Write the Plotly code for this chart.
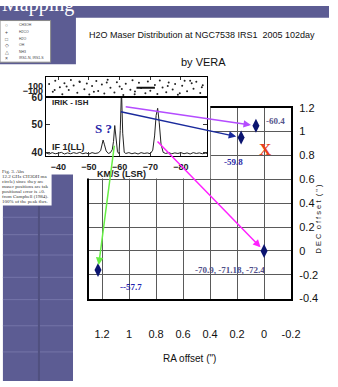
import plotly.graph_objects as go

W, H = 338, 387

# ---------------- data ----------------
ra_offset = [1.23, 0.0, 0.17, 0.06]
dec_offset = [-0.16, 0.0, 0.95, 1.05]
point_labels = ["--57.7", "-70.9, -71.18, -72.4", "-59.8", "-60.4"]

x_ticks = [1.2, 1.0, 0.8, 0.6, 0.4, 0.2, 0.0, -0.2]
x_tick_text = ["1.2", "1", "0.8", "0.6", "0.4", "0.2", "0", "-0.2"]
y_ticks = [-0.4, -0.2, 0.0, 0.2, 0.4, 0.6, 0.8, 1.0, 1.2]
y_tick_text = ["-0.4", "-0.2", "0", "0.2", "0.4", "0.6", "0.8", "1", "1.2"]

# inset spectrum (velocity km/s LSR, antenna temperature)
spec_vel = [-36.0, -37.0, -38.0, -39.0, -40.0, -41.0, -42.0, -43.0, -44.0, -45.0,
            -46.0, -47.0, -48.0, -49.0, -50.0, -51.0, -52.0, -53.0, -53.8, -54.3,
            -54.6, -55.0, -55.6, -56.3, -57.0, -57.6, -58.0, -58.4, -58.8, -59.3,
            -59.8, -60.2, -60.6, -61.0, -61.5, -62.0, -63.0, -64.0, -65.0, -66.0,
            -67.0, -68.0, -69.0, -70.0, -70.8, -71.4, -71.9, -72.4, -72.9, -73.5,
            -74.2, -75.0, -76.0, -77.0, -78.0, -79.0, -80.0, -81.0, -82.0, -83.0,
            -84.0, -85.0, -86.0, -87.0, -88.0, -88.6]
spec_temp = [39.8, 39.4, 39.9, 39.5, 39.7, 40.0, 39.4, 39.8, 39.5, 39.9,
             39.6, 40.0, 39.5, 39.8, 39.4, 39.9, 39.6, 39.8, 40.6, 42.8,
             44.5, 43.0, 40.5, 39.6, 39.9, 41.0, 44.0, 49.8, 44.5, 40.2,
             39.5, 48.0, 63.0, 47.0, 40.0, 39.6, 39.9, 39.5, 39.8, 39.4,
             39.9, 39.6, 39.8, 39.5, 40.8, 46.0, 53.5, 56.1, 51.0, 43.0,
             40.0, 39.6, 39.9, 39.5, 39.8, 39.6, 39.9, 39.5, 39.8, 39.4,
             39.9, 39.6, 39.8, 39.5, 39.7, 39.6]

# inset residual strip (velocity, residual)
res_vel = [-37.0, -38.2, -39.0, -40.5, -41.3, -42.0, -43.4, -44.1, -45.0, -46.2,
           -47.0, -48.5, -49.3, -50.1, -51.0, -52.4, -53.0, -54.2, -55.0, -56.1,
           -57.0, -58.3, -59.1, -60.0, -61.2, -62.0, -63.5, -64.2, -65.0, -66.3,
           -67.0, -68.4, -69.2, -70.0, -71.5, -72.3, -73.1, -74.0, -75.2, -76.0,
           -77.3, -78.1, -79.0, -80.4, -81.2, -82.0, -83.5, -84.1, -85.0, -86.3,
           -87.1, -38.8, -42.7, -46.9, -51.6, -55.8, -60.7, -64.9, -75.7, -79.6,
           -83.0, -86.8]
res_val = [150, -120, 260, 40, -200, 180, -60, 290, 100, -150,
           220, -30, 170, -210, 80, 250, -90, 130, -180, 300,
           20, -140, 210, 60, -230, 160, -50, 280, -110, 190,
           10, -170, 240, -80, 120, -190, 270, 30, -130, 200,
           -40, 150, -220, 90, 260, -100, 180, -10, 230, -160,
           110, -60, 60, 240, -120, 200, -20, -200, 80, -170,
           260, 40]
seg_vel = [-65.5, -71.5]
seg_val = [20, 20]

inset_x_ticks = [-40, -50, -60, -70, -80]
inset_y_ticks = [40, 50, 60]
strip_y_ticks = [-100, 100]

legend_symbols = ["○", "+", "□", "◇", "△", "×"]
legend_names = ["CH3OH", "H2CO", "H2O", "OH", "NH3", "IRS1-N, IRS1-S"]

caption_lines = ["Fig. 3. Abs", "12.2 GHz CH3OH ma", "circle) since they are",
                 "maser positions are tak", "positional error is \u00b10.",
                 "from Campbell (1984).", "100% of the peak flux."]

# ---------------- helpers ----------------
def px(x):
    return x / W

def py(y):
    return 1 - y / H

NARROW = "Liberation Sans Narrow, Arial Narrow, Liberation Sans, Arial, sans-serif"
SERIF = "Liberation Serif, Times New Roman, serif"
SANS = "Liberation Sans, Arial, sans-serif"
PURPLE = "#5c5c93"
NAVY = "#0b1470"

fig = go.Figure()

# main chart
fig.add_trace(go.Scatter(
    x=ra_offset, y=dec_offset, mode="markers",
    marker=dict(symbol="diamond-tall", size=10, color=NAVY),
    xaxis="x", yaxis="y", showlegend=False, hoverinfo="skip"))

# cover subplot (white background hiding main grid under the inset picture)
fig.add_trace(go.Scatter(x=[], y=[], xaxis="x2", yaxis="y2", showlegend=False))

# inset spectrum
fig.add_trace(go.Scatter(
    x=spec_vel, y=spec_temp, mode="lines",
    line=dict(color="#222222", width=1), xaxis="x3", yaxis="y3",
    showlegend=False, hoverinfo="skip"))

# inset residual strip
fig.add_trace(go.Scatter(
    x=res_vel, y=res_val, mode="markers",
    marker=dict(color="#222222", size=2), xaxis="x4", yaxis="y4",
    showlegend=False, hoverinfo="skip"))
fig.add_trace(go.Scatter(
    x=seg_vel, y=seg_val, mode="lines",
    line=dict(color="#111111", width=2), xaxis="x4", yaxis="y4",
    showlegend=False, hoverinfo="skip"))

main_x_dom = [px(91), px(299)]
main_y_dom = [py(302), py(105)]

inset_x_dom = [px(47), px(213)]
lower_y_dom = [py(155), py(94)]
strip_y_dom = [py(94), py(73)]

axis_common = dict(showline=True, linecolor="black", zeroline=False)

fig.update_layout(
    width=W, height=H, margin=dict(l=0, r=0, t=0, b=0),
    paper_bgcolor="white", plot_bgcolor="white", showlegend=False,
    xaxis=dict(domain=main_x_dom, range=[1.3, -0.2], anchor="y",
               tickvals=x_ticks, ticktext=x_tick_text, ticks="",
               showgrid=True, gridcolor="#5a5a5a", gridwidth=1,
               showline=True, linecolor="black", linewidth=2, mirror=True,
               zeroline=False, ticklabelstandoff=24,
               tickfont=dict(family=NARROW, size=11, color="#111111")),
    yaxis=dict(domain=main_y_dom, range=[-0.4, 1.2], anchor="x", side="right",
               tickvals=y_ticks, ticktext=y_tick_text, ticks="",
               showgrid=True, gridcolor="#5a5a5a", gridwidth=1,
               showline=True, linecolor="black", linewidth=2, mirror=True,
               zeroline=False, ticklabelstandoff=4,
               tickfont=dict(family=NARROW, size=11, color="#111111")),
    xaxis2=dict(domain=[px(88), px(216)], range=[0, 1], anchor="y2", visible=False),
    yaxis2=dict(domain=[py(178), py(72)], range=[0, 1], anchor="x2", visible=False),
    xaxis3=dict(domain=inset_x_dom, range=[-35.9, -88.6], anchor="y3",
                tickvals=inset_x_ticks, ticks="inside", ticklen=4, tickcolor="#333",
                showgrid=False, mirror=True, linewidth=1, ticklabelstandoff=2,
                tickfont=dict(family=SANS, size=9, color="#222", weight="bold"),
                **axis_common),
    yaxis3=dict(domain=lower_y_dom, range=[38.6, 60.2], anchor="x3",
                tickvals=inset_y_ticks, ticks="inside", ticklen=4, tickcolor="#333",
                showgrid=False, mirror="ticks", linewidth=1,
                tickfont=dict(family=SANS, size=10, color="#222", weight="bold"),
                **axis_common),
    xaxis4=dict(domain=inset_x_dom, range=[-35.9, -88.6], anchor="y4", side="top",
                tickvals=inset_x_ticks, ticks="inside", ticklen=3, tickcolor="#333",
                showticklabels=False, showgrid=False, mirror=True, linewidth=1,
                **axis_common),
    yaxis4=dict(domain=strip_y_dom, range=[-300, 400], anchor="x4",
                tickvals=strip_y_ticks, ticks="", showgrid=False, mirror=True,
                linewidth=1,
                tickfont=dict(family=SANS, size=9, color="#222", weight="bold"),
                **axis_common),
)

shapes = []
# purple slide decorations
shapes.append(dict(type="rect", xref="paper", yref="paper", x0=0, x1=1,
                   y0=py(12), y1=1, fillcolor=PURPLE, line_width=0, layer="below"))
shapes.append(dict(type="rect", xref="paper", yref="paper", x0=0, x1=px(78),
                   y0=py(60), y1=1, fillcolor=PURPLE, line_width=0, layer="below"))
shapes.append(dict(type="rect", xref="paper", yref="paper", x0=px(3), x1=px(75),
                   y0=0, y1=py(174), fillcolor=PURPLE, line_width=0, layer="below"))
for sy in [218, 236, 257, 280, 303, 330, 357]:
    shapes.append(dict(type="line", xref="paper", yref="paper", x0=px(3), x1=px(75),
                       y0=py(sy), y1=py(sy), line=dict(color="#7474a8", width=1),
                       layer="below"))
shapes.append(dict(type="line", xref="paper", yref="paper", x0=px(40), x1=px(40),
                   y0=0, y1=py(206), line=dict(color="#50507f", width=2), layer="below"))
# legend box and caption box
shapes.append(dict(type="rect", xref="paper", yref="paper", x0=0, x1=px(52),
                   y0=py(58), y1=py(15), fillcolor="white",
                   line=dict(color="#888888", width=1), layer="below"))
shapes.append(dict(type="rect", xref="paper", yref="paper", x0=0, x1=px(53),
                   y0=py(206), y1=py(166), fillcolor="white", line_width=0, layer="below"))
fig.update_layout(shapes=shapes)

ann = []
# slide title strip text (top of the letters cut by the page edge)
ann.append(dict(xref="paper", yref="paper", x=px(0), y=py(-1.5), xanchor="left",
                yanchor="middle", text="Mapping", showarrow=False,
                font=dict(family=SERIF, size=20, color="white")))
# chart title
ann.append(dict(xref="paper", yref="paper", x=px(208), y=py(30), xanchor="center",
                yanchor="middle", showarrow=False,
                text="H2O Maser Distribution at NGC7538 IRS1  2005 102day",
                font=dict(family=NARROW, size=9, color="#111111")))
ann.append(dict(xref="paper", yref="paper", x=px(209), y=py(58), xanchor="center",
                yanchor="middle", showarrow=False, text="by VERA",
                font=dict(family=NARROW, size=11, color="#111111")))
# axis titles
ann.append(dict(xref="paper", yref="paper", x=px(195), y=py(364), xanchor="center",
                yanchor="middle", showarrow=False, text="RA offset (\")",
                font=dict(family=NARROW, size=10, color="#111111")))
ann.append(dict(xref="paper", yref="paper", x=px(327), y=py(220), xanchor="center",
                yanchor="middle", showarrow=False, textangle=-90,
                text="D E C  o f f s e t  ( \" )",
                font=dict(family=NARROW, size=7.5, color="#222222")))
# legend box content
for i, (s, n) in enumerate(zip(legend_symbols, legend_names)):
    yy = 20 + i * 6.8
    ann.append(dict(xref="paper", yref="paper", x=px(7), y=py(yy), xanchor="center",
                    yanchor="middle", showarrow=False, text=s,
                    font=dict(family=SANS, size=5, color="#444")))
    ann.append(dict(xref="paper", yref="paper", x=px(17), y=py(yy), xanchor="left",
                    yanchor="middle", showarrow=False, text=n,
                    font=dict(family=SANS, size=3.5, color="#444")))
# caption text
for i, line in enumerate(caption_lines):
    ann.append(dict(xref="paper", yref="paper", x=px(0), y=py(171 + i * 5.2),
                    xanchor="left", yanchor="middle", showarrow=False, text=line,
                    font=dict(family=SERIF, size=5, color="#333")))
# inset texts
ann.append(dict(xref="paper", yref="paper", x=px(51), y=py(100), xanchor="left",
                yanchor="middle", showarrow=False, text="IRIK - ISH",
                font=dict(family=SANS, size=8, color="#222", weight="bold")))
ann.append(dict(xref="paper", yref="paper", x=px(51), y=py(146), xanchor="left",
                yanchor="middle", showarrow=False, text="IF 1(LL)",
                font=dict(family=SANS, size=9, color="#222", weight="bold")))
ann.append(dict(xref="paper", yref="paper", x=px(125), y=py(173), xanchor="center",
                yanchor="middle", showarrow=False, text="KM/S (LSR)",
                font=dict(family=SANS, size=9, color="#222", weight="bold")))
ann.append(dict(xref="x3", yref="y3", x=-54.8, y=48.8, showarrow=False, text="S ?",
                font=dict(family=SERIF, size=13, color="#2424a8", weight="bold")))

# arrows from the spectrum peaks to the maser spots (head at the data points)
arrow_tails = [(1.108, 0.894), (0.80, 0.93), (1.072, 1.17), (1.036, 1.21)]
arrow_colors = ["#66ee44", "#ff22ff", "#1a2a9c", "#b44cff"]
for i in range(4):
    ann.append(dict(xref="x", yref="y", axref="x", ayref="y",
                    x=ra_offset[i], y=dec_offset[i],
                    ax=arrow_tails[i][0], ay=arrow_tails[i][1],
                    showarrow=True, arrowhead=2, arrowsize=1, arrowwidth=1.5,
                    arrowcolor=arrow_colors[i], standoff=5, text=""))

# point labels
label_shifts = [(33, -17), (-34, -19), (-8, -24), (20, 5)]
label_colors = ["#2020b0", "#50508a", "#2a2aa8", "#56568c"]
for i in range(4):
    ann.append(dict(xref="x", yref="y", x=ra_offset[i], y=dec_offset[i],
                    xshift=label_shifts[i][0], yshift=label_shifts[i][1],
                    showarrow=False, text=point_labels[i],
                    font=dict(family=SERIF, size=9, color=label_colors[i], weight="bold")))
ann.append(dict(xref="x", yref="y", x=-0.01, y=0.85, showarrow=False, text="X",
                font=dict(family=SERIF, size=17, color="#e8401a", weight="bold")))

fig.update_layout(annotations=ann)

fig.write_html("out.html",
               config={"displayModeBar": False},
               post_script="document.body.style.margin='0px';"
                           "document.body.style.overflow='hidden';")
